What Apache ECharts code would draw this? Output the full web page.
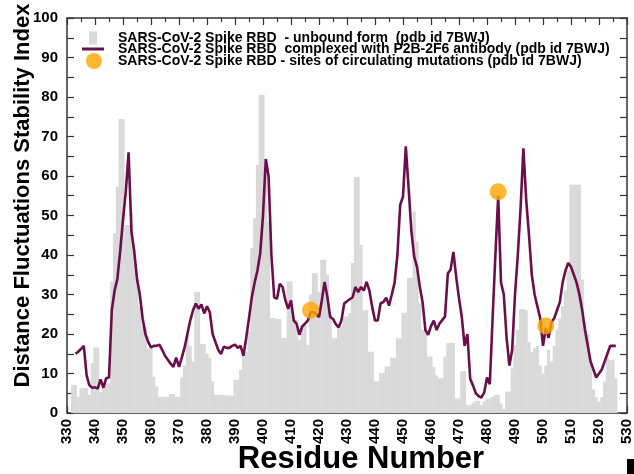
<!DOCTYPE html>
<html>
<head>
<meta charset="utf-8">
<script src="https://cdn.jsdelivr.net/npm/echarts@6/dist/echarts.min.js"></script>
<style>
html,body{margin:0;padding:0;background:#fff;}
#chart{width:634px;height:474px;}
</style>
</head>
<body>
<div id="chart"></div>
<script>
// Residue numbering of the first bar / first line point
const unboundStart = 332;
const unboundValues = [
  7.1, 7.1, 4.1, 6.3, 6.3, 6.3, 4.6, 12.6, 16.6, 16.6,   // 332-341
  5.4, 7.1, 7.3, 7.5, 33.3, 45.5, 57.3, 74.4, 74.4, 47.6, // 342-351
  47.6, 51, 41.3, 34.5, 26.9, 21.9, 21.9, 16.4, 16.4, 9.2, // 352-361
  6.7, 4.1, 4.1, 4.1, 4.1, 4.8, 4.8, 4.1, 4.1, 9,         // 362-371
  12, 19.5, 17, 13, 30.6, 30.6, 17.5, 17.5, 15, 14,       // 372-381
  8, 4.6, 4.6, 4.6, 4.6, 4.4, 4.4, 4.4, 8.4, 8.4,         // 382-391
  10.9, 15.5, 15.5, 20.6, 41.7, 49.3, 62.8, 80.6, 80.6, 61.1, // 392-401
  48.5, 24, 24, 23.8, 23.8, 19, 19, 33.3, 33.3, 23.6,     // 402-411
  23.6, 18.5, 22, 22, 17.2, 30, 35.4, 35.4, 30.7, 38.8,   // 412-421
  38.8, 35, 24.8, 18.9, 18.9, 21.9, 21.9, 24.4, 24.4, 25.3, // 422-431
  38, 59.7, 59.7, 42.6, 26, 26, 15.5, 15.5, 8, 8,         // 432-441
  10.1, 10.1, 11.8, 11.8, 14, 14, 18.9, 18.9, 25.4, 25.4, // 442-451
  34.2, 34.2, 51, 43.4, 27.8, 21, 21, 14.3, 14.3, 11.7,   // 452-461
  9.5, 8.8, 8.8, 14.3, 17.7, 17.7, 17.7, 3.7, 3.7, 10.6,  // 462-471
  10.6, 2, 2, 2.6, 3.1, 3.1, 2, 2.9, 3.7, 3.7,            // 472-481
  4.1, 4.6, 4.6, 2.4, 1, 5.4, 5.4, 11.3, 17.2, 21,        // 482-491
  26.3, 26.3, 26, 18, 15.5, 16.4, 17, 12, 10, 12,         // 492-501
  16, 13, 17, 21, 24, 27, 31, 36, 57.8, 57.8,             // 502-511
  57.8, 57.8, 33.8, 23, 20, 13, 6, 4, 2.9, 4,             // 512-521
  8, 14, 13.4, 13.4, 8.8                                  // 522-526
];

const complexStart = 333;
const complexValues = [
  15, 15.5, 16.2, 17, 9.5, 7, 6.4, 6.5, 6.2, 8.5,          // 333-342
  6.4, 8.8, 9, 26, 31, 34, 41, 49, 56, 66,                 // 343-352
  46, 41, 34, 30, 24, 20, 18, 16.6, 17, 17,                // 353-362
  17.3, 16, 14.5, 13.5, 12.5, 11.7, 14, 11.7, 14, 16.6,    // 363-372
  20, 23.4, 26, 27.7, 26.4, 27.5, 25.2, 27, 25.5, 20,      // 373-382
  18, 16, 14.9, 16.8, 16.5, 16.5, 17, 17.3, 16.5, 17,      // 383-392
  14.5, 19, 24, 29.3, 33, 36, 40.4, 50, 64.3, 59.9,        // 393-402
  40, 29.3, 28.9, 32.7, 31.9, 28.5, 26.4, 28.5, 23.4, 22.6, // 403-412
  19.8, 21.9, 22.6, 23.4, 25.5, 25.5, 25, 24.3, 28.5, 33.2, // 413-422
  29.3, 24.3, 23.8, 22.5, 21.7, 23.4, 27.7, 28.3, 28.8, 29.3, // 423-432
  31.9, 30.6, 31.9, 31, 33.2, 31, 26.8, 23.4, 23.4, 27.8,  // 433-442
  28.1, 29.2, 27.2, 30, 33, 40, 52.7, 54.8, 67.5, 57,      // 443-452
  46, 39.5, 37, 32, 28, 21, 19.8, 22, 23.4, 21,            // 453-462
  22.6, 23.5, 24.4, 35.3, 36.3, 40.8, 34.4, 29, 24.3, 17,  // 463-472
  20, 8.6, 7, 5, 4.3, 3.9, 5.2, 9, 7.3, 24,                // 473-482
  40, 55, 33, 30, 19, 12, 16, 30, 40, 52,                  // 483-492
  67, 54, 45, 35, 30, 27, 24, 17, 21.5, 19,                // 493-502
  23, 24, 26, 28, 33, 36, 38, 37, 35, 33,                  // 503-512
  30, 26, 21, 17, 13, 11, 9, 10, 11, 13,                   // 513-522
  15, 17, 17, 17                                           // 523-526
];

const mutationResidues = [417, 484, 501];
const mutationValues = [26, 56, 22];

const xMin = 330, xMax = 530, xStep = 10;
const yMin = 0, yMax = 100, yStep = 10;

const seriesNames = [
  'SARS-CoV-2 Spike RBD  - unbound form  (pdb id 7BWJ)',
  'SARS-CoV-2 Spike RBD  complexed with P2B-2F6 antibody (pdb id 7BWJ)',
  'SARS-CoV-2 Spike RBD - sites of circulating mutations (pdb id 7BWJ)'
];

const FONT = '"Liberation Sans", Arial, Helvetica, sans-serif';
const barData = unboundValues.map((v, i) => [unboundStart + i, v]);
const lineData = complexValues.map((v, i) => [complexStart + i, v]);
const dotData = mutationResidues.map((r, i) => [r, mutationValues[i]]);

const chart = echarts.init(document.getElementById('chart'), null, {renderer: 'canvas'});

const axisLineStyle = {color: '#333', width: 1.5};
const tickStyle = {color: '#333', width: 1.2};
const legendText = {fontFamily: FONT, fontWeight: 'bold', fontSize: 14, color: '#000', lineHeight: 14};

chart.setOption({
  backgroundColor: '#fff',
  animation: false,
  grid: {left: 67, right: 7, top: 18, bottom: 61, containLabel: false, outerBoundsMode: 'none'},
  legend: [
    {data: [seriesNames[0]], left: 89, top: 31, padding: 0, orient: 'vertical', icon: 'rect',
     itemWidth: 8, itemHeight: 13, selectedMode: false,
     textStyle: Object.assign({padding: [0, 0, 0, 16]}, legendText)},
    {data: [seriesNames[1]], left: 82, top: 42, padding: 0, orient: 'vertical', icon: 'rect',
     itemWidth: 22, itemHeight: 3, selectedMode: false,
     textStyle: Object.assign({padding: [0, 0, 0, 9]}, legendText)},
    {data: [seriesNames[2]], left: 86, top: 53, padding: 0, orient: 'vertical', icon: 'circle',
     itemWidth: 16, itemHeight: 16, selectedMode: false,
     textStyle: Object.assign({padding: [0, 0, 0, 11]}, legendText)}
  ],
  xAxis: [
    {
      type: 'value', min: xMin, max: xMax, interval: xStep, position: 'bottom',
      axisLine: {show: true, onZero: false, lineStyle: axisLineStyle},
      axisTick: {show: true, inside: true, length: 7, lineStyle: tickStyle},
      minorTick: {show: true, splitNumber: 2, length: 4, lineStyle: tickStyle},
      splitLine: {show: false},
      axisLabel: {rotate: 90, margin: 6, fontFamily: FONT, fontWeight: 'bold', fontSize: 15, color: '#000'},
      name: 'Residue Number', nameLocation: 'middle', nameGap: 31, nameMoveOverlap: false,
      nameTextStyle: {fontFamily: FONT, fontWeight: 'bold', fontSize: 31, color: '#000', padding: [0, 0, 0, 28]}
    },
    {
      type: 'value', min: xMin, max: xMax, interval: xStep, position: 'top',
      axisLine: {show: true, onZero: false, lineStyle: axisLineStyle},
      axisTick: {show: true, inside: true, length: 7, lineStyle: tickStyle},
      minorTick: {show: true, splitNumber: 2, length: 4, lineStyle: tickStyle},
      splitLine: {show: false}, axisLabel: {show: false}
    }
  ],
  yAxis: [
    {
      type: 'value', min: yMin, max: yMax, interval: yStep, position: 'left',
      axisLine: {show: true, onZero: false, lineStyle: axisLineStyle},
      axisTick: {show: true, inside: true, length: 7, lineStyle: tickStyle},
      minorTick: {show: true, splitNumber: 2, length: 7, lineStyle: tickStyle},
      splitLine: {show: false},
      axisLabel: {margin: 9, fontFamily: FONT, fontWeight: 'bold', fontSize: 15, color: '#000'},
      name: 'Distance Fluctuations Stability Index', nameLocation: 'middle', nameGap: 33, nameMoveOverlap: false,
      nameTextStyle: {fontFamily: FONT, fontWeight: 'bold', fontSize: 22, color: '#000', padding: [0, 0, 0, 40]}
    },
    {
      type: 'value', min: yMin, max: yMax, interval: yStep, position: 'right',
      axisLine: {show: true, onZero: false, lineStyle: axisLineStyle},
      axisTick: {show: true, inside: true, length: 7, lineStyle: tickStyle},
      minorTick: {show: true, splitNumber: 2, length: 7, lineStyle: tickStyle},
      splitLine: {show: false}, axisLabel: {show: false}
    }
  ],
  series: [
    {
      name: seriesNames[0], type: 'bar', xAxisIndex: 0, yAxisIndex: 0,
      data: barData, barWidth: 3.1, itemStyle: {color: '#d9d9d9'}, z: 1,
      emphasis: {disabled: true}
    },
    {
      name: seriesNames[1], type: 'line', xAxisIndex: 0, yAxisIndex: 0,
      data: lineData, showSymbol: false, symbol: 'none',
      lineStyle: {color: '#6b0f4b', width: 2.6}, itemStyle: {color: '#6b0f4b'}, z: 3,
      emphasis: {disabled: true}
    },
    {
      name: seriesNames[2], type: 'scatter', xAxisIndex: 0, yAxisIndex: 0,
      data: dotData, symbolSize: 17, itemStyle: {color: '#ffa500'}, z: 4,
      emphasis: {disabled: true}
    }
  ],
  graphic: [
    {type: 'rect', shape: {x: 627, y: 459, width: 7, height: 15}, style: {fill: '#000'}}
  ]
});
</script>
</body>
</html>
